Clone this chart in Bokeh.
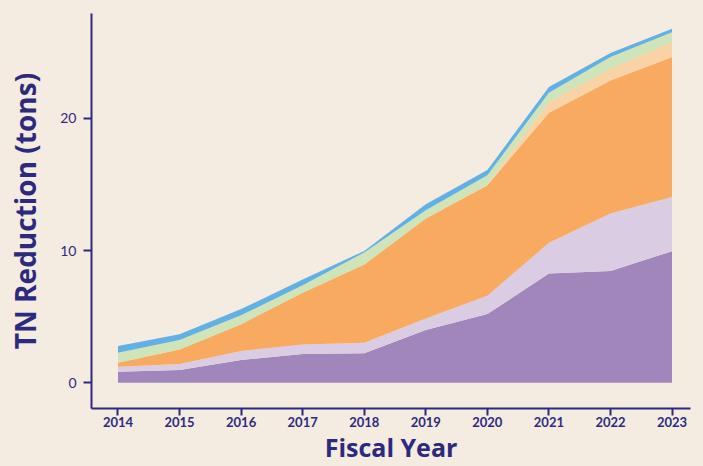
from bokeh.plotting import figure
from bokeh.models import ColumnDataSource, FixedTicker, Range1d
from bokeh.embed import file_html
from bokeh.resources import INLINE

# ---- data (tons of TN reduction per category, stacked) ----
years = [2014, 2015, 2016, 2017, 2018, 2019, 2020, 2021, 2022, 2023]
year_labels = ["2014", "2015", "2016", "2017", "2018", "2019", "2020", "2021", "2022", "2023"]
cat_a = [0.83, 0.96, 1.72, 2.17, 2.22, 3.98, 5.19, 8.27, 8.46, 9.95]
cat_b = [0.38, 0.45, 0.68, 0.73, 0.80, 0.88, 1.38, 2.31, 4.34, 4.10]
cat_c = [0.30, 1.11, 2.03, 3.90, 5.92, 7.56, 8.37, 9.85, 10.07, 10.58]
cat_d = [0.00, 0.00, 0.00, 0.00, 0.00, 0.00, 0.04, 0.80, 0.88, 1.14]
cat_e = [0.76, 0.71, 0.68, 0.58, 0.91, 0.63, 0.71, 0.71, 0.88, 0.75]
cat_f = [0.50, 0.43, 0.46, 0.43, 0.12, 0.45, 0.41, 0.43, 0.31, 0.26]
y_ticks = [0, 10, 20]

names = ["cat_a", "cat_b", "cat_c", "cat_d", "cat_e", "cat_f"]
colors = ["#a086bb", "#dacde3", "#f8ab60", "#f9d3a6", "#cfe4b8", "#63b1e4"]

BG = "#f4ebe1"
NAVY = "#2d2a7e"
FONT = "Lato"
TITLE_FONT = "Open Sans"

source = ColumnDataSource(dict(year=years, cat_a=cat_a, cat_b=cat_b, cat_c=cat_c,
                               cat_d=cat_d, cat_e=cat_e, cat_f=cat_f))

p = figure(width=703, height=466, output_backend="svg", toolbar_location=None,
           x_range=Range1d(2013.57, 2023.30), y_range=Range1d(-1.95, 27.93),
           min_border_left=91, min_border_right=13, min_border_top=13, min_border_bottom=58)

p.varea_stack(stackers=names, x="year", color=colors, source=source)

p.background_fill_color = BG
p.border_fill_color = BG
p.outline_line_color = None
p.xgrid.grid_line_color = None
p.ygrid.grid_line_color = None

# x axis
xa = p.xaxis[0]
xa.ticker = FixedTicker(ticks=years)
xa.major_label_overrides = {y: l for y, l in zip(years, year_labels)}
xa.minor_tick_line_color = None
xa.axis_line_color = NAVY
xa.axis_line_width = 2
xa.major_tick_line_color = NAVY
xa.major_tick_line_width = 2
xa.major_tick_out = 7
xa.major_tick_in = 0
xa.major_label_standoff = 1
xa.major_label_text_color = NAVY
xa.major_label_text_font = FONT
xa.major_label_text_font_style = "bold"
xa.major_label_text_font_size = "13px"
xa.axis_label = "Fiscal Year"
xa.axis_label_text_color = NAVY
xa.axis_label_text_font = TITLE_FONT
xa.axis_label_text_font_style = "bold"
xa.axis_label_text_font_size = "25px"
xa.axis_label_standoff = 0

# y axis
ya = p.yaxis[0]
ya.ticker = FixedTicker(ticks=y_ticks)
ya.minor_tick_line_color = None
ya.axis_line_color = NAVY
ya.axis_line_width = 2
ya.major_tick_line_color = NAVY
ya.major_tick_line_width = 2
ya.major_tick_out = 8
ya.major_tick_in = 0
ya.major_label_standoff = 7
ya.major_label_text_color = NAVY
ya.major_label_text_font = FONT
ya.major_label_text_font_size = "14px"
ya.axis_label = "TN Reduction (tons)"
ya.axis_label_text_color = NAVY
ya.axis_label_text_font = TITLE_FONT
ya.axis_label_text_font_style = "bold"
ya.axis_label_text_font_size = "28px"
ya.axis_label_standoff = 13

html = file_html(p, INLINE)
html = html.replace("</head>", "<style>html,body{background:%s;}</style></head>" % BG, 1)
open("out.html", "w").write(html)
